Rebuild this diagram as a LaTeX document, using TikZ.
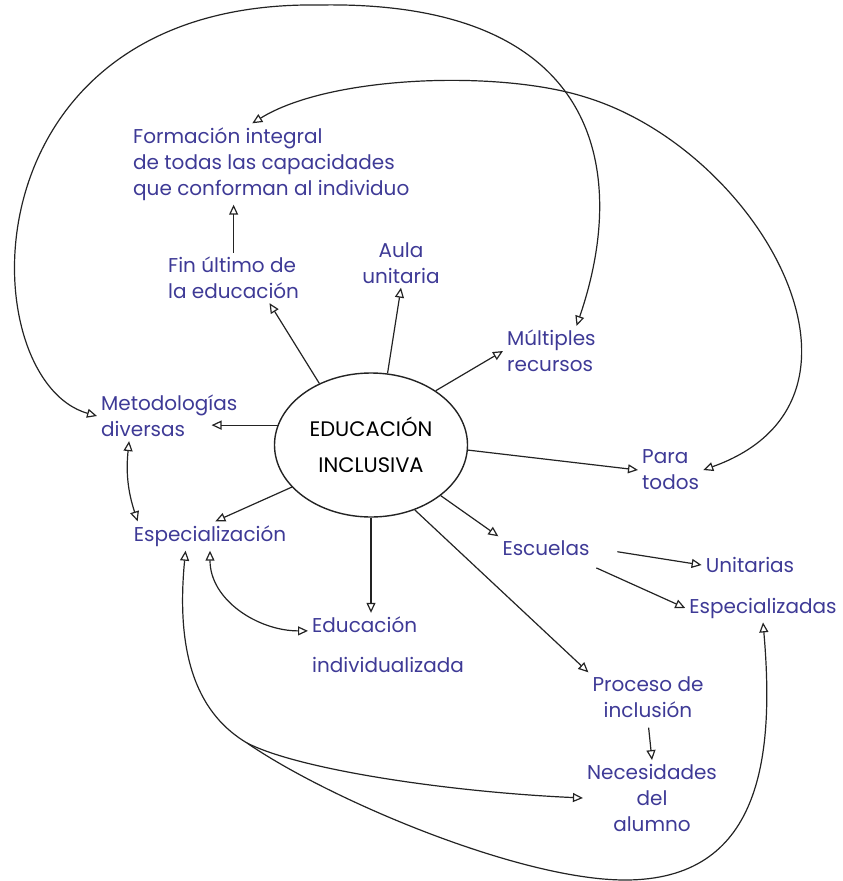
\documentclass[tikz,border=0pt]{standalone}
\usepackage{fontspec}
\setmainfont{Poppins}
\usetikzlibrary{positioning, arrows.meta, shapes.geometric}
\definecolor{ink}{RGB}{62,58,150}
\definecolor{pencil}{RGB}{35,35,35}
\tikzset{
idea/.style={text=ink, font=\fontsize{20}{26}\selectfont, inner sep=4pt},
hub/.style={draw=pencil, ellipse, line width=1.4pt, minimum width=193pt, minimum height=144pt, inner sep=0pt, font=\fontsize{21}{36}\selectfont, align=center},
link/.style={draw=pencil, line width=1.2pt, -{Triangle[open, length=10pt, width=9pt]}},
duo/.style={link, {Triangle[open, length=10pt, width=9pt]}-{Triangle[open, length=10pt, width=9pt]}},
}

\begin{document}
\begin{tikzpicture}[x=1pt, y=-1pt]
    \useasboundingbox (0,0) rectangle (843,881);

    %centre
    \node[hub] (hub) at (371,445) {EDUCACIÓN\\INCLUSIVA};

    %upper nodes
    \node[idea, align=left, anchor=west] (form) at (129,164) {Formación integral\\de todas las capacidades\\que conforman al individuo};
    \node[idea, align=left, anchor=west] (fin) at (164,278) {Fin último de\\la educación};
    \node[idea, align=center] (aula) at (401,263) {Aula\\unitaria};
    \node[idea, align=left, anchor=west] (mult) at (503,351) {Múltiples\\recursos};
    \node[idea, align=left, anchor=west] (metod) at (97,416) {Metodologías\\diversas};
    \node[idea, align=left, anchor=west] (para) at (638,470) {Para\\todos};

    %lower nodes
    \node[idea] (espec) at (210,536) {Especialización};
    \node[idea, align=left, anchor=west, font=\fontsize{20}{40}\selectfont] (eduind) at (308,645) {Educación\\individualizada};
    \node[idea] (escu) at (546,548) {Escuelas};
    \node[idea] (unit) at (750,565) {Unitarias};
    \node[idea] (espz) at (763,608) {Especializadas};
    \node[idea, align=center] (proc) at (648,697) {Proceso de\\inclusión};
    \node[idea, align=center] (nec) at (652,798) {Necesidades\\del\\alumno};

    \coordinate (peak) at (319,5);
    \coordinate (ridge) at (585,97);
    \coordinate (fork) at (247,743);

    %rays out of the centre
    \draw[link, shorten >=-30pt] (hub.168) -- (hub.168 -| metod.east);
    \draw[link] (hub.130) -- (fin.-35);
    \draw[link] (hub.77) -- (aula.south);
    \draw[link] (hub.40) -- (mult.west);
    \draw[link] (hub.-3) -- (para.west);
    \draw[link] (hub.-36) -- (escu.north west);
    \draw[link] (hub.-56) -- (proc.north west);
    \draw[link] (hub.south) -- (hub.south |- eduind.north);
    \draw[link] (hub.208) -- (espec.70);

    %short links
    \draw[link] (fin.north) -- (fin.north |- form.south);
    \draw[link, shorten <=24pt] (escu.east) -- (unit.west);
    \draw[link, shorten <=20pt] (escu.-20) -- (espz.west);
    \draw[link, shorten <=6pt] (proc.south) -- (nec.north);
    \draw[duo] (metod.-148) to[bend right=12] ([xshift=8pt]espec.north west);
    \draw[duo] (espec.south) to[out=-90, in=180] (eduind.170);

    %long curves
    \draw[duo] (metod.west) .. controls (-30,380) and (-40,0) .. (peak)
        .. controls (600,0) and (630,170) .. (mult.45);
    \draw[duo] (form.115) .. controls (330,75) and (500,70) .. (ridge)
        .. controls (760,150) and (900,400) .. (para.east);
    \draw[duo] (espec.-149) .. controls (175,660) and (200,715) .. (fork)
        .. controls (330,800) and (520,880) .. (625,880)
        .. controls (760,880) and (775,760) .. (espz.south);
    \draw[link] (fork) .. controls (300,770) and (450,792) .. (nec.west);

\end{tikzpicture}
\end{document}
